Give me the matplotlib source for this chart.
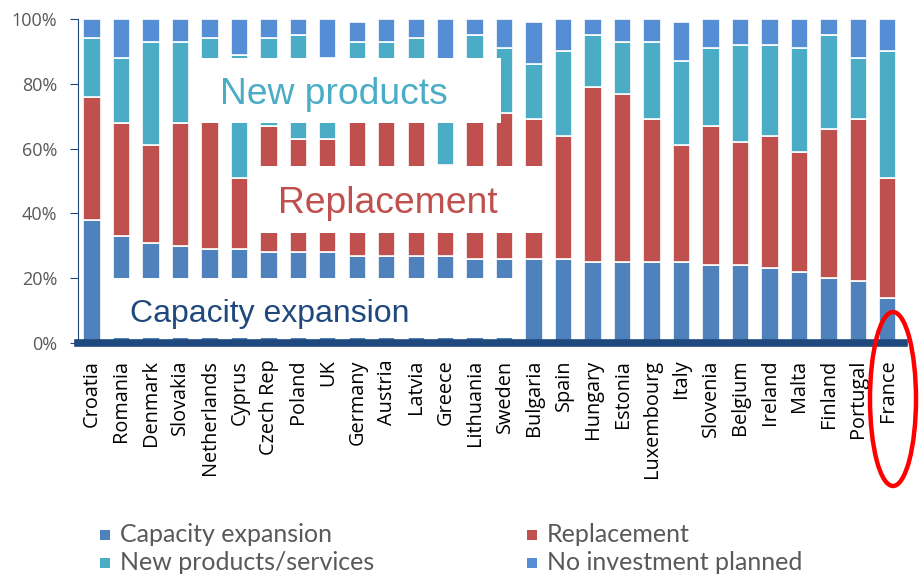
import matplotlib
matplotlib.use("Agg")
import matplotlib.pyplot as plt
from matplotlib.patches import Rectangle, Ellipse
import numpy as np

countries = ["Croatia", "Romania", "Denmark", "Slovakia", "Netherlands", "Cyprus",
             "Czech Rep", "Poland", "UK", "Germany", "Austria", "Latvia", "Greece",
             "Lithuania", "Sweden", "Bulgaria", "Spain", "Hungary", "Estonia",
             "Luxembourg", "Italy", "Slovenia", "Belgium", "Ireland", "Malta",
             "Finland", "Portugal", "France"]
capacity = [38, 33, 31, 30, 29, 29, 28, 28, 28, 27, 27, 27, 27, 26, 26, 26, 26, 25, 25, 25, 25, 24, 24, 23, 22, 20, 19, 14]
replacement = [38, 35, 30, 38, 45, 22, 39, 35, 35, 44, 45, 46, 28, 45, 45, 43, 38, 54, 52, 44, 36, 43, 38, 41, 37, 46, 50, 37]
new_products = [18, 20, 32, 25, 20, 38, 27, 32, 25, 22, 21, 21, 28, 24, 20, 17, 26, 16, 16, 24, 26, 24, 30, 28, 32, 29, 19, 39]
no_invest = [6, 12, 7, 7, 6, 11, 6, 5, 12, 6, 7, 6, 17, 5, 9, 13, 10, 5, 7, 7, 12, 9, 8, 8, 9, 5, 12, 10]

series = [("Capacity expansion", capacity, "#4F81BD"),
          ("Replacement", replacement, "#C0504D"),
          ("New products/services", new_products, "#4BACC6"),
          ("No investment planned", no_invest, "#558ED5")]

W, H = 920, 575
fig = plt.figure(figsize=(W / 100, H / 100), dpi=100)
ax = fig.add_axes([78 / W, 1 - 343 / H, (904 - 78) / W, 324 / H])

x = np.arange(len(countries))
bottom = np.zeros(len(countries))
for name, vals, col in series:
    ax.bar(x, vals, 0.59, bottom=bottom, color=col, edgecolor="white", linewidth=1.2, zorder=2)
    bottom += np.array(vals)

ax.set_xlim(-0.475, 27.55)
ax.set_ylim(0, 100)
ax.set_yticks(range(0, 101, 20))
ax.set_yticklabels([f"{v}%" for v in range(0, 101, 20)], family="Open Sans", fontsize=13, color="#595959")
ax.tick_params(axis="y", length=6, color="#1F497D", pad=9)
ax.set_xticks(x)
ax.set_xticklabels(countries, rotation=90, family="Open Sans", fontsize=14.3, color="black")
ax.tick_params(axis="x", length=0, pad=12)
for s in ["top", "right", "bottom"]:
    ax.spines[s].set_visible(False)
ax.spines["left"].set_color("#1F497D")

# white boxes with the labels over the bars
boxes = [(3.66, 67.8, 13.87, 88.1), (5.45, 33.9, 15.55, 54.5), (0.44, 1.5, 14.52, 20.1)]
for x0, y0, x1, y1 in boxes:
    ax.add_patch(Rectangle((x0, y0), x1 - x0, y1 - y0, facecolor="white", edgecolor="none", zorder=3))

ax.text(4.34, 73.8, "New products", family="Liberation Sans", fontsize=26.8, color="#4BACC6", zorder=4)
ax.text(6.31, 40.1, "Replacement", family="Liberation Sans", fontsize=26.8, color="#C0504D", zorder=4)
ax.text(1.29, 6.6, "Capacity expansion", family="Liberation Sans", fontsize=23, color="#1F497D", zorder=4)

ax.axhline(0, color="#1F497D", linewidth=5.5, zorder=5, clip_on=False)

# legend by hand
leg_pos = [(100, 535), (527, 535), (100, 563), (527, 563)]
for (name, vals, col), (lx, ly) in zip(series, leg_pos):
    fig.patches.append(Rectangle((lx / W, 1 - (ly + 5) / H), 10 / W, 10 / H,
                                 transform=fig.transFigure, facecolor=col, edgecolor="none"))
    fig.text((lx + 20) / W, 1 - ly / H, name, family="Lato", fontsize=18,
             color="#595959", va="center", ha="left")

fig.patches.append(Ellipse((893 / W, 1 - 399 / H), 46 / W, 174 / H, transform=fig.transFigure,
                           facecolor="none", edgecolor="red", linewidth=3.2, zorder=10))

fig.savefig("out.png", dpi=100)
